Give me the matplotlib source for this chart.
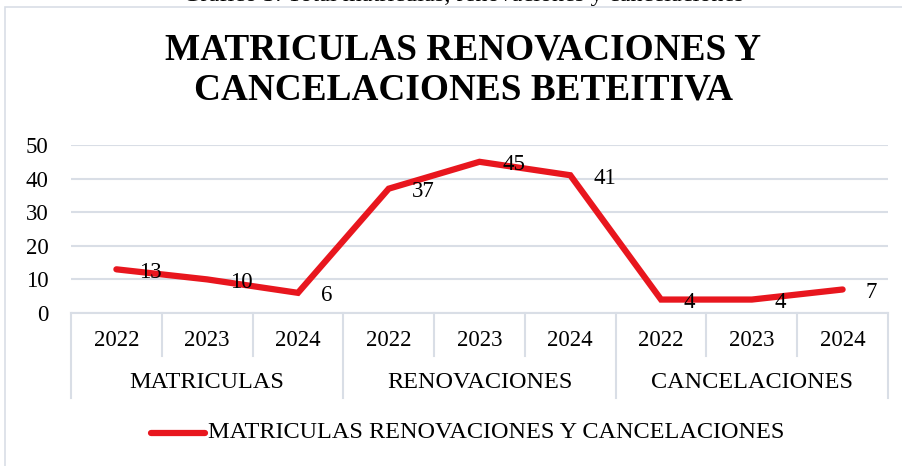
import matplotlib
matplotlib.use("Agg")
import matplotlib.pyplot as plt
from matplotlib.patches import Rectangle

plt.rcParams['font.family'] = ['Liberation Serif', 'DejaVu Serif']

# data
groups = ['MATRICULAS', 'RENOVACIONES', 'CANCELACIONES']
years = ['2022', '2023', '2024']
values = [13, 10, 6, 37, 45, 41, 4, 4, 7]
series_name = 'MATRICULAS RENOVACIONES Y CANCELACIONES'
title = 'MATRICULAS RENOVACIONES Y\nCANCELACIONES BETEITIVA'
caption = 'Gráfico 3. Total matrículas, renovaciones y cancelaciones'

W, H = 902, 466
red = '#E8161E'
grid_c = '#D9DEE6'

fig = plt.figure(figsize=(W / 100, H / 100), dpi=100)

# chart border (runs off right/bottom edges)
fig.patches.append(Rectangle((5 / W, -0.05), 1.0, 1 - 7 / H + 0.05,
                             transform=fig.transFigure, fill=False,
                             edgecolor=grid_c, lw=1.2))

# caption cut off at the top
fig.text(463 / W, 1 - 1 / H, caption, ha='center', va='baseline', fontsize=17.5)

ax = fig.add_axes([71 / W, 1 - 313 / H, (888 - 71) / W, (313 - 145) / H])
n = len(values)
x = list(range(n))
ax.plot(x, values, color=red, lw=4.5, solid_joinstyle='miter', solid_capstyle='round')

for xi, v in zip(x, values):
    ax.annotate(str(v), (xi, v), xytext=(16.5, -2), textcoords='offset points',
                ha='left', va='center', fontsize=16.5)

ax.set_xlim(-0.5, n - 0.5)
ax.set_ylim(0, 50)
ax.set_yticks(range(0, 51, 10))
ax.tick_params(axis='y', length=0, labelsize=16.5, pad=16)
ax.set_xticks([])
ax.grid(axis='y', color=grid_c, lw=1.5)
ax.set_axisbelow(True)
for s in ['top', 'right', 'left']:
    ax.spines[s].set_visible(False)
ax.spines['bottom'].set_color(grid_c)
ax.spines['bottom'].set_linewidth(1.5)

# multi-level category axis
px = 1 / (313 - 145) * 50  # data units per pixel in y
for i in range(n + 1):
    low = 398 if i % 3 == 0 else 356
    ax.plot([i - 0.5, i - 0.5], [0, -(low - 313) * px], color=grid_c, lw=1.5,
            clip_on=False)
for i in range(n):
    ax.text(i, -(341 - 313) * px, years[i % 3], ha='center', va='center',
            fontsize=16.5)
for g, name in enumerate(groups):
    ax.text(g * 3 + 1, -(383 - 313) * px, name, ha='center', va='center',
            fontsize=17.5)

fig.text(463 / W, 1 - 70 / H, title, ha='center', va='center',
         fontsize=26.8, fontweight='bold', linespacing=1.2)

# legend
fig.lines.append(plt.Line2D([151 / W, 205 / W], [1 - 433 / H] * 2,
                            transform=fig.transFigure, color=red, lw=4.5,
                            solid_capstyle='round'))
fig.text(208 / W, 1 - 433 / H, series_name, ha='left', va='center', fontsize=17.5)

fig.savefig('out.png', dpi=100)
